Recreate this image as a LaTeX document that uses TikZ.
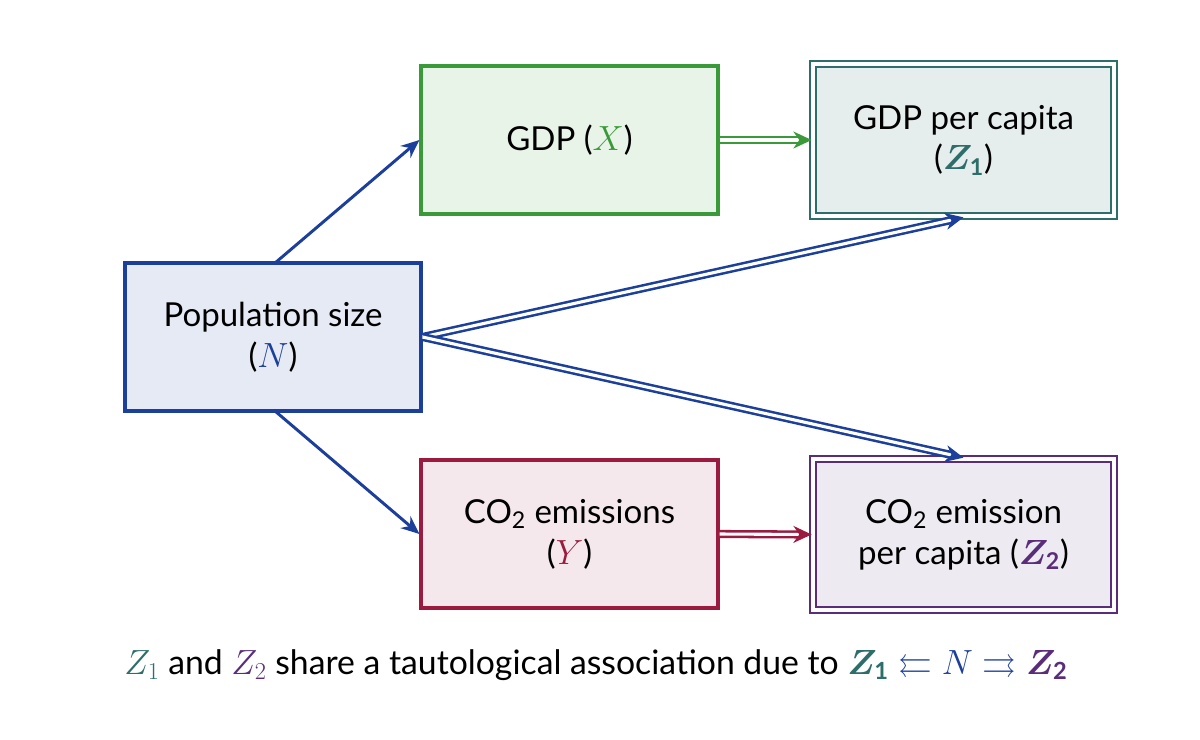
\documentclass[tikz,border=0pt]{standalone}
\usepackage{amsmath,amssymb,bm}
\usepackage{fontspec}
\setmainfont{Lato}
\usetikzlibrary{arrows.meta}
\definecolor{cb}{HTML}{1C3F9C}
\definecolor{cg}{HTML}{3A9A3A}
\definecolor{ct}{HTML}{2E6E6A}
\definecolor{cr}{HTML}{9B1B40}
\definecolor{cp}{HTML}{5A2D7A}
\begin{document}
\begin{tikzpicture}[x=0.025cm,y=-0.025cm,
  box/.style={draw, line width=2.2pt, align=center, font=\fontsize{23.5}{29}\selectfont, inner sep=0pt},
  dbox/.style={box, double, double distance=2.4pt, line width=1.9pt},
  ar/.style={cb, line width=2.1pt, -{Stealth[length=13pt,width=11pt]}},
  dar/.style={line width=1.8pt, double, double distance=2.2pt, -{Stealth[length=13pt,width=12pt]}}]
\useasboundingbox (0,0) rectangle (1200,739);
\node[box, draw=cg, fill=cg!11, minimum width=297*0.025cm, minimum height=148*0.025cm] (x) at (569.5,140) {GDP ($\color{cg}X$)};
\node[dbox, draw=ct, fill=ct!12, minimum width=301*0.025cm, minimum height=152*0.025cm] (z1) at (963.5,140) {GDP per capita\\($\color{ct}\bm{Z}_{\mathbf 1}$)};
\node[box, draw=cb, fill=cb!11, minimum width=296*0.025cm, minimum height=148*0.025cm] (n) at (273,337) {Population size\\($\color{cb}N$)};
\node[box, draw=cr, fill=cr!10, minimum width=297*0.025cm, minimum height=148*0.025cm] (y) at (569.5,534) {CO\textsubscript{2} emissions\\($\color{cr}Y$)};
\node[dbox, draw=cp, fill=cp!10, minimum width=301*0.025cm, minimum height=151*0.025cm] (z2) at (963.5,534.5) {CO\textsubscript{2} emission\\per capita ($\color{cp}\bm{Z}_{\mathbf 2}$)};
\draw[ar] (275,263) -- (x.west);
\draw[ar] (275,411) -- (y.west);
\draw[dar, cg] (x.east) -- (z1.west);
\draw[dar, cr] (y.east) -- (z2.west);
\coordinate (np) at (n.east);
\draw[dar, cb] (np) -- (z1.south);
\draw[dar, cb] (np) -- (z2.north);
\node[font=\fontsize{24}{29}\selectfont] (cap) at (596,665) {$\color{ct}Z_1$ and $\color{cp}Z_2$ share a tautological association due to $\color{ct}\bm{Z}_{\mathbf 1}\color{cb}\leftleftarrows N\rightrightarrows\color{cp}\bm{Z}_{\mathbf 2}$};
\end{tikzpicture}
\end{document}
